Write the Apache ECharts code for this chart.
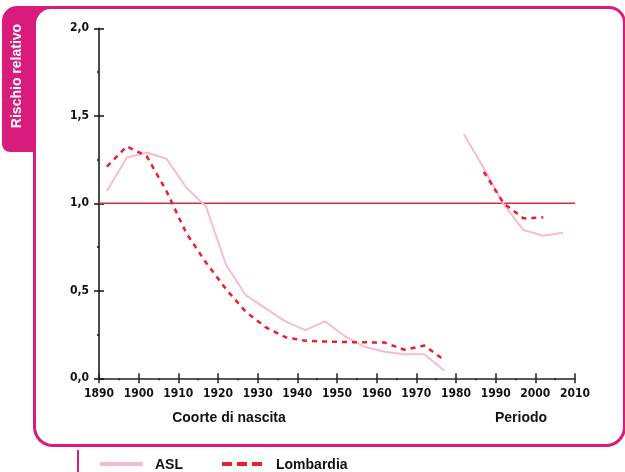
<!DOCTYPE html>
<html><head><meta charset="utf-8">
<script src="https://cdn.jsdelivr.net/npm/echarts@6/dist/echarts.min.js"></script>
<style>html,body{margin:0;padding:0;background:#fff}#c{width:625px;height:472px}</style>
</head><body><div id="c"></div>
<script>
var cohortYears = [1892,1897,1902,1907,1912,1917,1922,1927,1932,1937,1942,1947,1952,1957,1962,1967,1972,1977];
var aslCohort   = [1.07,1.26,1.29,1.255,1.09,0.98,0.65,0.475,0.40,0.325,0.275,0.325,0.24,0.18,0.152,0.137,0.137,0.045];
var lombCohort  = [1.21,1.325,1.27,1.07,0.83,0.66,0.51,0.38,0.292,0.235,0.215,0.21,0.207,0.206,0.204,0.163,0.187,0.105];
var periodYears = [1982,1987,1992,1997,2002,2007];
var aslPeriod   = [1.395,1.2,0.995,0.847,0.815,0.832];
var lombPeriodYears = [1987,1992,1997,2002];
var lombPeriod  = [1.18,1.0,0.914,0.92];
var refLevel = 1.0;
var seriesNames = ['ASL','Lombardia'];
var axisTitles = ['Coorte di nascita','Periodo'];
var yTitle = 'Rischio relativo';

function zip(a,b){return a.map(function(v,i){return [v,b[i]];});}
var MAG = '#d81b7c', PINK = '#f8bad5', RED = '#ea1f2e', REF = '#c8343e';
var tickFont = {fontFamily:'"DejaVu Sans",sans-serif',fontWeight:'bold condensed',fontSize:12,color:'#111'};
var BOLD = 'bold 14px "Liberation Sans",Arial,sans-serif';
var chart = echarts.init(document.getElementById('c'));
var gx = 99, gy = 28.3, gw = 476, gh = 350;
chart.setOption({
  animation:false,
  graphic:[
    {type:'rect',z:-10,shape:{x:2,y:6,width:40,height:146,r:[15,0,0,8]},style:{fill:MAG}},
    {type:'rect',z:-10,shape:{x:33,y:6,width:593,height:441,r:[0,17,20,20]},style:{fill:MAG}},
    {type:'rect',z:-9,shape:{x:36,y:9,width:587,height:435,r:[15,14,17,17]},style:{fill:'#fff'}},
    {type:'rect',z:-9,shape:{x:77,y:450,width:2,height:22},style:{fill:MAG}},
    {type:'text',z:5,x:17,y:76,rotation:Math.PI/2,style:{text:yTitle,fill:'#fff',font:BOLD,textAlign:'center',textVerticalAlign:'middle'}},
    {type:'text',z:5,x:229,y:418,style:{text:axisTitles[0],fill:'#111',font:BOLD,textAlign:'center',textVerticalAlign:'middle'}},
    {type:'text',z:5,x:521,y:418,style:{text:axisTitles[1],fill:'#111',font:BOLD,textAlign:'center',textVerticalAlign:'middle'}},
    {type:'line',z:5,shape:{x1:100,y1:464,x2:143,y2:464},style:{stroke:PINK,lineWidth:4}},
    {type:'text',z:5,x:155,y:465,style:{text:seriesNames[0],fill:'#111',font:BOLD,textVerticalAlign:'middle'}},
    {type:'line',z:5,shape:{x1:222,y1:464,x2:264,y2:464},style:{stroke:RED,lineWidth:4,lineDash:[10,5]}},
    {type:'text',z:5,x:276,y:465,style:{text:seriesNames[1],fill:'#111',font:BOLD,textVerticalAlign:'middle'}}
  ],
  grid:{left:gx, top:gy, width:gw, height:gh, containLabel:false},
  xAxis:[
    {type:'value',min:1890,max:2010,interval:10,
     axisLine:{lineStyle:{color:'#222',width:1.5}},
     axisTick:{length:5,lineStyle:{color:'#222',width:1.5}},
     minorTick:{show:true,splitNumber:2,length:2,lineStyle:{color:'#222',width:1.5}},
     axisLabel:Object.assign({margin:10,formatter:function(v){return String(v);}},tickFont),
     splitLine:{show:false}},
    {type:'value',min:1890,max:2010,interval:10,position:'bottom',
     axisLine:{show:false},
     axisTick:{inside:true,length:5,lineStyle:{color:'#222',width:1.5}},
     minorTick:{show:false},
     axisLabel:{show:false},splitLine:{show:false}}
  ],
  yAxis:[
    {type:'value',min:0,max:2,interval:0.5,
     axisLine:{show:true,lineStyle:{color:'#111',width:1.5}},
     axisTick:{show:true,length:5,lineStyle:{color:'#111',width:1.5}},
     minorTick:{show:true,splitNumber:2,length:2,lineStyle:{color:'#111',width:1.5}},
     axisLabel:Object.assign({margin:10,formatter:function(v){return v.toFixed(1).replace('.',',');}},tickFont),
     splitLine:{show:false}},
    {type:'value',min:0,max:2,interval:0.5,position:'left',
     axisLine:{show:false},
     axisTick:{show:true,inside:true,length:5,lineStyle:{color:'#111',width:1.5}},
     axisLabel:{show:false},splitLine:{show:false}}
  ],
  series:[
    {name:'ref',type:'line',data:[[1890,refLevel],[2010,refLevel]],symbol:'none',silent:true,z:1,
     lineStyle:{color:REF,width:1.5},itemStyle:{color:REF}},
    {name:seriesNames[0],type:'line',data:zip(cohortYears,aslCohort),symbol:'none',z:3,
     lineStyle:{color:PINK,width:2},itemStyle:{color:PINK}},
    {name:seriesNames[0],type:'line',data:zip(periodYears,aslPeriod),symbol:'none',z:3,
     lineStyle:{color:PINK,width:2},itemStyle:{color:PINK}},
    {name:seriesNames[1],type:'line',data:zip(cohortYears,lombCohort),symbol:'none',z:4,
     lineStyle:{color:RED,width:2.5,type:[5,5]},itemStyle:{color:RED}},
    {name:seriesNames[1],type:'line',data:zip(lombPeriodYears,lombPeriod),symbol:'none',z:4,
     lineStyle:{color:RED,width:2.5,type:[5,5]},itemStyle:{color:RED}}
  ]
});
</script></body></html>
